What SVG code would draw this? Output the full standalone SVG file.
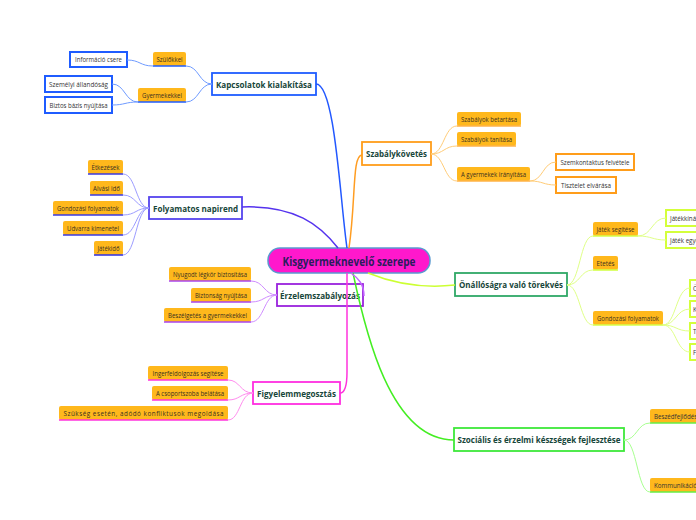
<svg xmlns="http://www.w3.org/2000/svg" width="696" height="520" viewBox="0 0 696 520">
<style>
text{font-family:"Open Sans","Noto Sans",sans-serif}
.sub{fill:#ffb81c}
.st{font-size:6.3px;fill:#3a3020;text-anchor:middle;dominant-baseline:central}
.lt{font-size:6.4px;fill:#333;text-anchor:middle;dominant-baseline:central}
.ls{font-size:6.2px;fill:#333;dominant-baseline:central}
.main{fill:#fff;stroke-width:1.8}
.mt{font-size:9px;font-weight:bold;fill:#17463a;text-anchor:middle;dominant-baseline:central}
.leaf{fill:#fff;stroke-width:2}
.ul{stroke-width:1.6;fill:none}
.c{fill:none;stroke-width:1.5}
.cs{fill:none;stroke-width:1}
</style>
<rect width="696" height="520" fill="#fff"/>
<g id="center">
<rect x="268" y="248" width="162" height="25" rx="12" fill="#ff18cc" stroke="#5a9ad0" stroke-width="1.5"/>
<text x="349" y="261" font-size="11.5" font-weight="bold" fill="#2a1d5c" text-anchor="middle" dominant-baseline="central" textLength="133" lengthAdjust="spacingAndGlyphs">Kisgyermeknevelő szerepe</text>
</g>
<g id="kapcsolatok">
<rect class="main" x="212" y="73" width="104" height="22" stroke="#1f5cff"/>
<text class="mt" x="264" y="84" textLength="96" lengthAdjust="spacingAndGlyphs">Kapcsolatok kialakítása</text>
<rect class="sub" x="153" y="52" width="33" height="14" rx="2"/><line class="ul" x1="153" y1="66" x2="186" y2="66" stroke="#1f5cff"/>
<text class="st" x="169.5" y="59" textLength="26" lengthAdjust="spacingAndGlyphs">Szülőkkel</text>
<rect class="sub" x="138" y="88" width="48" height="14" rx="2"/><line class="ul" x1="138" y1="102" x2="186" y2="102" stroke="#1f5cff"/>
<text class="st" x="162" y="95" textLength="40" lengthAdjust="spacingAndGlyphs">Gyermekekkel</text>
<rect class="leaf" x="70" y="52" width="57" height="15" stroke="#1f5cff"/>
<text class="lt" x="98.5" y="59.5" textLength="47" lengthAdjust="spacingAndGlyphs">Információ csere</text>
<rect class="leaf" x="45" y="76" width="67" height="16" stroke="#1f5cff"/>
<text class="lt" x="78.5" y="84" textLength="59" lengthAdjust="spacingAndGlyphs">Személyi állandóság</text>
<rect class="leaf" x="45" y="97" width="67" height="16" stroke="#1f5cff"/>
<text class="lt" x="78.5" y="105" textLength="58" lengthAdjust="spacingAndGlyphs">Biztos bázis nyújtása</text>
</g>
<g id="szabalykovetes">
<rect class="main" x="362" y="142" width="69" height="23" stroke="#ff9d1a"/>
<text class="mt" x="396.5" y="153.5" textLength="61" lengthAdjust="spacingAndGlyphs">Szabálykövetés</text>
<rect class="sub" x="457" y="112" width="64" height="14" rx="2"/><line class="ul" x1="457" y1="126" x2="521" y2="126" stroke="#ffb347"/>
<text class="st" x="489" y="119" textLength="56" lengthAdjust="spacingAndGlyphs">Szabályok betartása</text>
<rect class="sub" x="457" y="132" width="59" height="14" rx="2"/><line class="ul" x1="457" y1="146" x2="516" y2="146" stroke="#ffb347"/>
<text class="st" x="486.5" y="139" textLength="51" lengthAdjust="spacingAndGlyphs">Szabályok tanítása</text>
<rect class="sub" x="457" y="167" width="73" height="14" rx="2"/><line class="ul" x1="457" y1="181" x2="530" y2="181" stroke="#ffb347"/>
<text class="st" x="493.5" y="174" textLength="65" lengthAdjust="spacingAndGlyphs">A gyermekek irányítása</text>
<rect class="leaf" x="556" y="154" width="78" height="16" stroke="#ff9d1a"/>
<text class="lt" x="595" y="162" textLength="69" lengthAdjust="spacingAndGlyphs">Szemkontaktus felvétele</text>
<rect class="leaf" x="556" y="177" width="60" height="16" stroke="#ff9d1a"/>
<text class="lt" x="586" y="185" textLength="50" lengthAdjust="spacingAndGlyphs">Tisztelet elvárása</text>
</g>
<g id="onallosag">
<rect class="main" x="455" y="273" width="112" height="23" stroke="#2fa866"/>
<text class="mt" x="511" y="284.5" textLength="104" lengthAdjust="spacingAndGlyphs">Önállóságra való törekvés</text>
<rect class="sub" x="593" y="222" width="45" height="14" rx="2"/><line class="ul" x1="593" y1="236" x2="638" y2="236" stroke="#d4ff4a"/>
<text class="st" x="615.5" y="229" textLength="38" lengthAdjust="spacingAndGlyphs">Játék segítése</text>
<rect class="sub" x="593" y="256" width="25" height="14" rx="2"/><line class="ul" x1="593" y1="270" x2="618" y2="270" stroke="#d4ff4a"/>
<text class="st" x="605.5" y="263" textLength="18" lengthAdjust="spacingAndGlyphs">Etetés</text>
<rect class="sub" x="593" y="311" width="70" height="14" rx="2"/><line class="ul" x1="593" y1="325" x2="663" y2="325" stroke="#d4ff4a"/>
<text class="st" x="628" y="318" textLength="62" lengthAdjust="spacingAndGlyphs">Gondozási folyamatok</text>
<rect class="leaf" x="666" y="210" width="60" height="16" stroke="#d4ff3a"/>
<text class="ls" x="670" y="218">Játékkínálás</text>
<rect class="leaf" x="666" y="232" width="60" height="16" stroke="#d4ff3a"/>
<text class="ls" x="670" y="240">Játék egyéni</text>
<rect class="leaf" x="690" y="280" width="40" height="16" stroke="#d4ff3a"/>
<text class="ls" x="693" y="288">Öltözködés</text>
<rect class="leaf" x="690" y="301" width="40" height="16" stroke="#d4ff3a"/>
<text class="ls" x="693" y="309">Kézmosás</text>
<rect class="leaf" x="690" y="323" width="40" height="16" stroke="#d4ff3a"/>
<text class="ls" x="693" y="331">Tisztálkodás</text>
<rect class="leaf" x="690" y="344" width="40" height="16" stroke="#d4ff3a"/>
<text class="ls" x="693" y="352">Fürdetés</text>
</g>
<g id="szocialis">
<rect class="main" x="454" y="428" width="170" height="23" stroke="#3ee83a"/>
<text class="mt" x="539" y="439.5" textLength="163" lengthAdjust="spacingAndGlyphs">Szociális és érzelmi készségek fejlesztése</text>
<rect class="sub" x="650" y="409" width="60" height="14" rx="2"/><line class="ul" x1="650" y1="423" x2="710" y2="423" stroke="#66ee44"/>
<text class="ls" x="654" y="416" font-size="6.3">Beszédfejlődés</text>
<rect class="sub" x="650" y="478" width="60" height="14" rx="2"/><line class="ul" x1="650" y1="492" x2="710" y2="492" stroke="#66ee44"/>
<text class="ls" x="654" y="485" font-size="6.3">Kommunikáció</text>
</g>
<g id="napirend">
<rect class="main" x="149" y="197" width="93" height="22" stroke="#5544ee"/>
<text class="mt" x="195.5" y="208" textLength="85" lengthAdjust="spacingAndGlyphs">Folyamatos napirend</text>
<rect class="sub" x="88" y="160" width="35" height="14" rx="2"/><line class="ul" x1="88" y1="174" x2="123" y2="174" stroke="#3a3ae0"/>
<text class="st" x="105.5" y="167" textLength="28" lengthAdjust="spacingAndGlyphs">Étkezések</text>
<rect class="sub" x="90" y="181" width="33" height="14" rx="2"/><line class="ul" x1="90" y1="195" x2="123" y2="195" stroke="#3a3ae0"/>
<text class="st" x="106.5" y="188" textLength="27" lengthAdjust="spacingAndGlyphs">Alvási idő</text>
<rect class="sub" x="53" y="201" width="70" height="14" rx="2"/><line class="ul" x1="53" y1="215" x2="123" y2="215" stroke="#3a3ae0"/>
<text class="st" x="88" y="208" textLength="62" lengthAdjust="spacingAndGlyphs">Gondozási folyamatok</text>
<rect class="sub" x="63" y="221" width="60" height="14" rx="2"/><line class="ul" x1="63" y1="235" x2="123" y2="235" stroke="#3a3ae0"/>
<text class="st" x="93" y="228" textLength="52" lengthAdjust="spacingAndGlyphs">Udvarra kimenetel</text>
<rect class="sub" x="94" y="241" width="29" height="14" rx="2"/><line class="ul" x1="94" y1="255" x2="123" y2="255" stroke="#3a3ae0"/>
<text class="st" x="108.5" y="248" textLength="22" lengthAdjust="spacingAndGlyphs">Játékidő</text>
</g>
<g id="erzelem">
<rect class="main" x="277" y="284" width="86" height="22" stroke="#9a22dd"/>
<text class="mt" x="320" y="295" textLength="80" lengthAdjust="spacingAndGlyphs">Érzelemszabályozás</text>
<rect class="sub" x="169" y="267" width="82" height="14" rx="2"/><line class="ul" x1="169" y1="281" x2="251" y2="281" stroke="#aa44ee"/>
<text class="st" x="210" y="274" textLength="74" lengthAdjust="spacingAndGlyphs">Nyugodt légkör biztosítása</text>
<rect class="sub" x="191" y="288" width="60" height="14" rx="2"/><line class="ul" x1="191" y1="302" x2="251" y2="302" stroke="#aa44ee"/>
<text class="st" x="221" y="295" textLength="52" lengthAdjust="spacingAndGlyphs">Biztonság nyújtása</text>
<rect class="sub" x="164" y="308" width="87" height="14" rx="2"/><line class="ul" x1="164" y1="322" x2="251" y2="322" stroke="#aa44ee"/>
<text class="st" x="207.5" y="315" textLength="79" lengthAdjust="spacingAndGlyphs">Beszélgetés a gyermekekkel</text>
</g>
<g id="figyelem">
<rect class="main" x="253" y="382" width="87" height="22" stroke="#ff2ee0"/>
<text class="mt" x="296.5" y="393" textLength="79" lengthAdjust="spacingAndGlyphs">Figyelemmegosztás</text>
<rect class="sub" x="148" y="366" width="80" height="14" rx="2"/><line class="ul" x1="148" y1="380" x2="228" y2="380" stroke="#ff33dd"/>
<text class="st" x="188" y="373" textLength="71" lengthAdjust="spacingAndGlyphs">Ingerfeldolgozás segítése</text>
<rect class="sub" x="152" y="386" width="76" height="14" rx="2"/><line class="ul" x1="152" y1="400" x2="228" y2="400" stroke="#ff33dd"/>
<text class="st" x="190" y="393" textLength="68" lengthAdjust="spacingAndGlyphs">A csoportszoba belátása</text>
<rect class="sub" x="59" y="406" width="169" height="14" rx="2"/><line class="ul" x1="59" y1="420" x2="228" y2="420" stroke="#ff33dd"/>
<text class="st" x="143.5" y="413" font-size="6.8" textLength="160" lengthAdjust="spacing">Szükség esetén, adódó konfliktusok megoldása</text>
</g>
<g id="connectors">
<path class="c" stroke="#2258ff" d="M316,84 C335,84 340,200 347,248"/>
<path class="c" stroke="#ff9d22" d="M362,155 C352,155 356,200 349,248"/>
<path class="c" stroke="#ccff33" d="M368,273 Q410,290 455,285"/>
<path class="c" stroke="#44ee22" d="M353,273 C365,330 390,440 454,440"/>
<path class="c" stroke="#5533ee" d="M242,207 C295,205 320,225 338,248"/>
<path class="c" stroke="#c266ff" d="M351,273 C358,278 364,284 364,296"/>
<path class="c" stroke="#ff33dd" d="M347,273 L347,372 Q347,393 340,393"/>
<g stroke="#6f9bff" class="cs">
<path class="cs" d="M212,84 C199,84 199,66 186,66"/>
<path class="cs" d="M212,84 C199,84 199,102 186,102"/>
<path class="cs" d="M153,66 C140,66 140,60 127,60"/>
<path class="cs" d="M138,102 C125,102 125,84 112,84"/>
<path class="cs" d="M138,102 C125,102 125,105 112,105"/>
</g>
<g stroke="#ffcc77" class="cs">
<path class="cs" d="M431,154 C444,154 444,126 457,126"/>
<path class="cs" d="M431,154 C444,154 444,146 457,146"/>
<path class="cs" d="M431,154 C444,154 444,181 457,181"/>
<path class="cs" d="M530,181 C543,181 543,162 556,162"/>
<path class="cs" d="M530,181 C543,181 543,185 556,185"/>
</g>
<g stroke="#e0ff88" class="cs">
<path class="cs" d="M567,285 C580,285 580,236 593,236"/>
<path class="cs" d="M567,285 C580,285 580,270 593,270"/>
<path class="cs" d="M567,285 C580,285 580,325 593,325"/>
<path class="cs" d="M638,236 C652,236 652,218 666,218"/>
<path class="cs" d="M638,236 C652,236 652,240 666,240"/>
<path class="cs" d="M663,325 C676,325 676,288 690,288"/>
<path class="cs" d="M663,325 C676,325 676,309 690,309"/>
<path class="cs" d="M663,325 C676,325 676,331 690,331"/>
<path class="cs" d="M663,325 C676,325 676,352 690,352"/>
</g>
<g stroke="#a8ff90" class="cs">
<path class="cs" d="M624,440 C637,440 637,423 650,423"/>
<path class="cs" d="M624,440 C637,440 637,492 650,492"/>
</g>
<g stroke="#9c9cff" class="cs">
<path class="cs" d="M149,208 C136,208 136,174 123,174"/>
<path class="cs" d="M149,208 C136,208 136,195 123,195"/>
<path class="cs" d="M149,208 C136,208 136,215 123,215"/>
<path class="cs" d="M149,208 C136,208 136,235 123,235"/>
<path class="cs" d="M149,208 C136,208 136,255 123,255"/>
</g>
<g stroke="#cf8cff" class="cs">
<path class="cs" d="M277,295 C264,295 264,281 251,281"/>
<path class="cs" d="M277,295 C264,295 264,302 251,302"/>
<path class="cs" d="M277,295 C264,295 264,322 251,322"/>
</g>
<g stroke="#ff8cee" class="cs">
<path class="cs" d="M253,393 C240,393 240,380 228,380"/>
<path class="cs" d="M253,393 C240,393 240,400 228,400"/>
<path class="cs" d="M253,393 C240,393 240,420 228,420"/>
</g>
</g>
</svg>
